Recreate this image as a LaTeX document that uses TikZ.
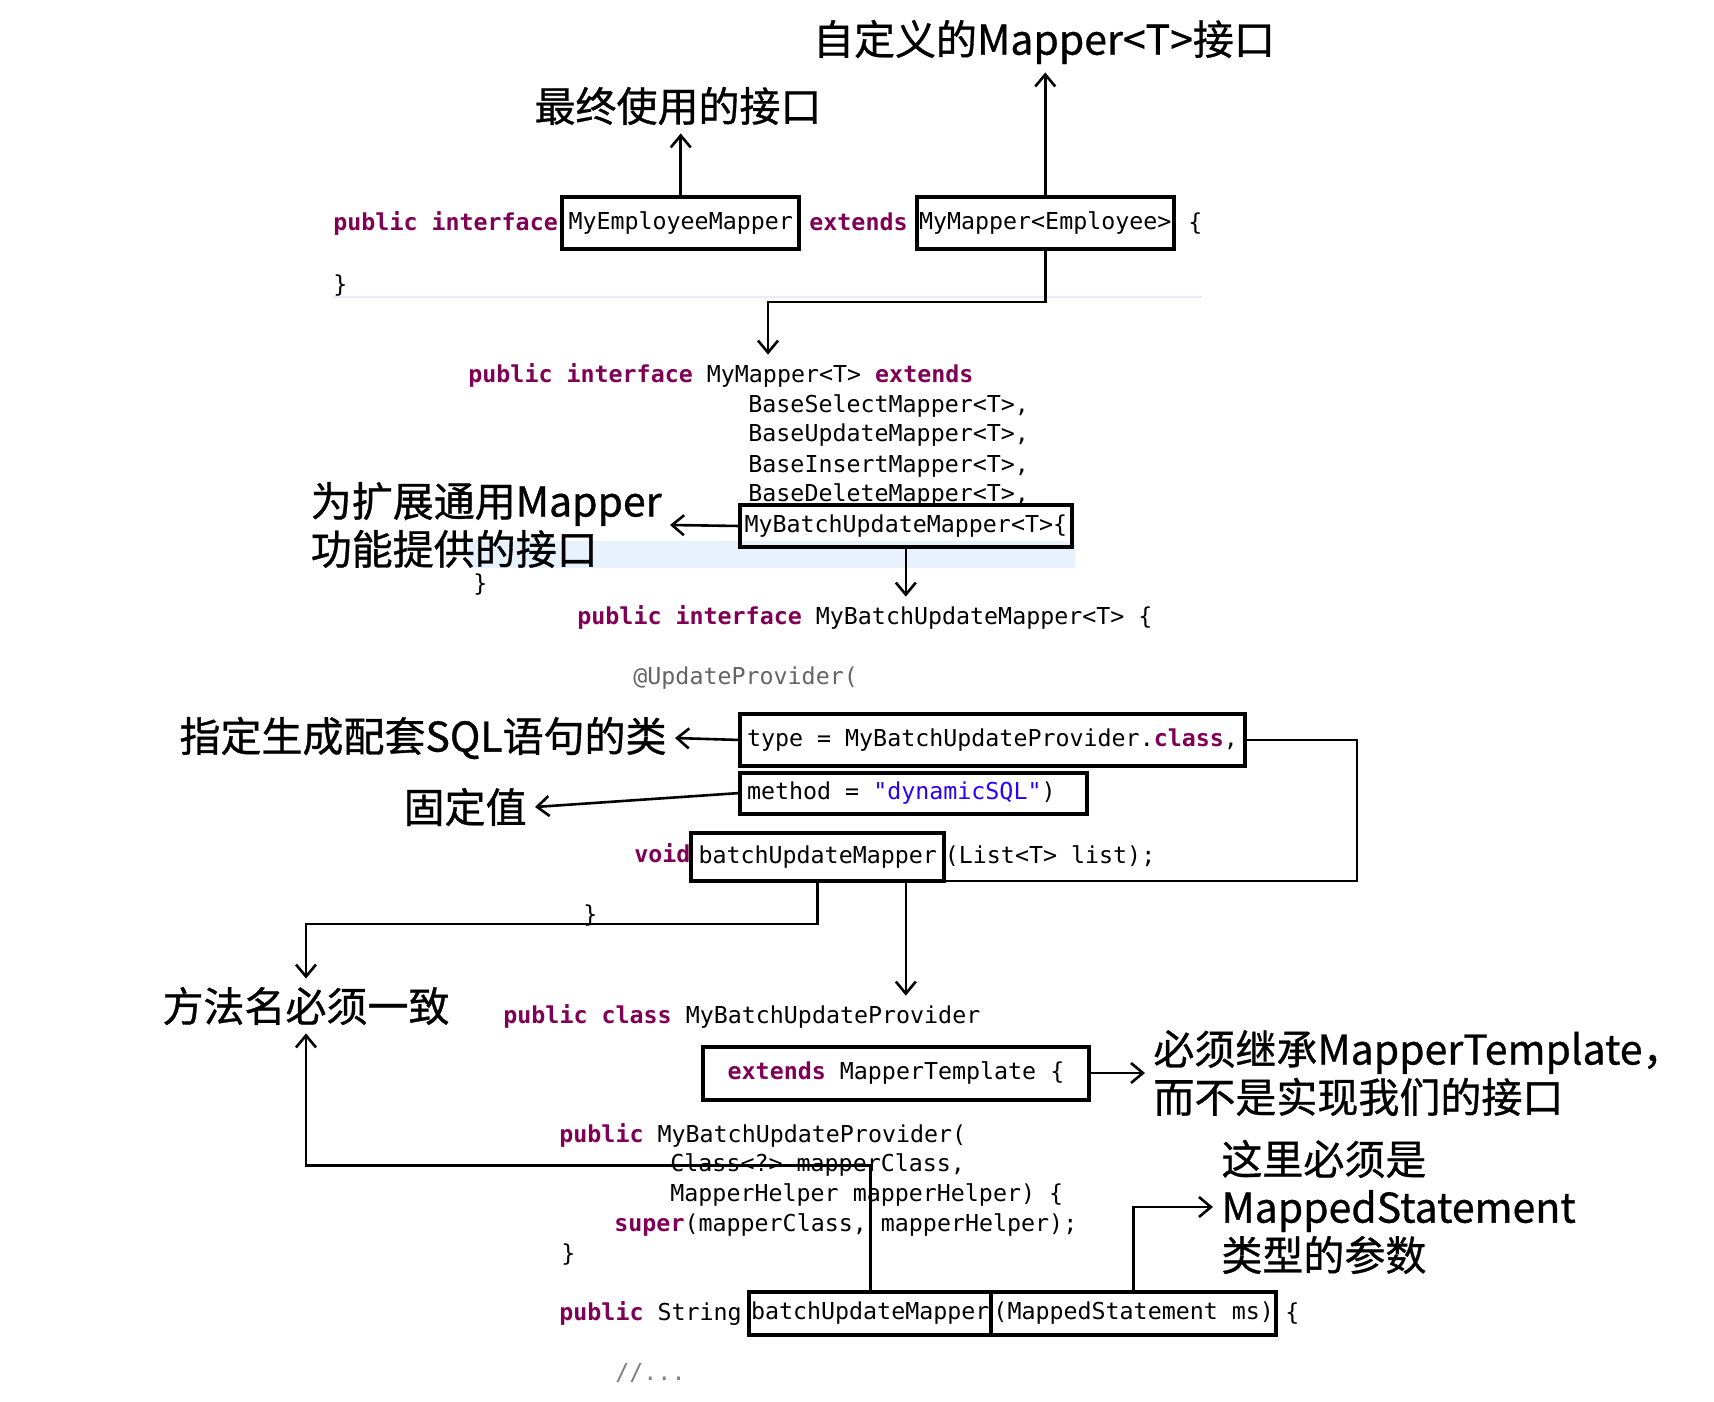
\documentclass[tikz,border=0pt]{standalone}
\usepackage{fontspec}
\usepackage{xcolor}
\usetikzlibrary{arrows.meta,positioning,calc}

\newfontfamily\codefont{DejaVu Sans Mono}
\newfontfamily\cjkfont{Noto Sans CJK SC}[FakeBold=0.8]

\definecolor{kwcol}{HTML}{7F0055}
\definecolor{strcol}{HTML}{2A00FF}
\definecolor{anncol}{HTML}{646464}
\definecolor{curline}{HTML}{E8F2FE}

\newcommand{\kw}[1]{\textcolor{kwcol}{\bfseries #1}}
\newcommand{\strlit}[1]{\textcolor{strcol}{#1}}

\tikzset{
  code/.style={font=\codefont\fontsize{11.65}{14}\selectfont, anchor=west, inner sep=0pt, text height=8.5pt, text depth=2.5pt},
  hl/.style={code, draw, line width=2pt, outer sep=0pt, inner xsep=1pt, minimum height=26pt},
  lbl/.style={font=\cjkfont\fontsize{20.5}{24}\selectfont, align=left, inner sep=4pt},
  arr/.style={line width=1.3pt, -{Straight Barb[length=6pt,width=10pt]}},
}

\begin{document}
\begin{tikzpicture}[x=0.5pt, y=-0.5pt]
    \useasboundingbox (0,0) rectangle (1714,1402);

    % MyEmployeeMapper
    \node[code] (l1a) at (333,224) {\kw{public interface}};
    \node[hl, inner xsep=3.25pt] (emp) at (562,223) {MyEmployeeMapper};
    \node[code] (l1b) at (809,224) {\kw{extends}};
    \node[hl] (mym) at (917,223) {MyMapper<Employee>};
    \node[code] (l1c) at (1188,224) {\{};
    \node[code] (l1d) at (333,286) {\}};
    \draw[blue!8, line width=1pt] (333,297) -- (1202,297);

    \node[lbl] (use) at (678,106) {最终使用的接口};
    \node[lbl] (def) at (1044,42) {自定义的Mapper<T>接口};
    \draw[arr] (emp.north) -- (emp.north |- use.south);
    \draw[arr] (mym.north) -- (mym.north |- def.south);

    % MyMapper<T>
    \coordinate (j1) at (768,302);
    \fill[curline] (468,541) rectangle (1075,568);
    \node[code] (l2a) at (468,376) {\kw{public interface} MyMapper<T> \kw{extends}};
    \draw[arr] (mym.south) |- (j1) -- ([yshift=5pt]j1 |- l2a.north);
    \foreach \op/\y in {Select/406, Update/435, Insert/466, Delete/495} {
        \node[code] (base\op) at (748,\y) {Base\op Mapper<T>,};
    }
    \node[hl, minimum height=21pt, inner xsep=2.25pt] (mbum) at (740,526) {MyBatchUpdateMapper<T>\{};
    \node[code] (l2c) at (473,585) {\}};
    \node[lbl, anchor=east] (ext1) at (670,525) {为扩展通用Mapper\\功能提供的接口};
    \draw[arr] (mbum.west) -- (ext1.east);

    % MyBatchUpdateMapper<T>
    \node[code] (l3a) at (577,618) {\kw{public interface} MyBatchUpdateMapper<T> \{};
    \draw[arr] (mbum.south) -- ([yshift=5pt]mbum.south |- l3a.north);
    \node[code, text=anncol] (l3b) at (633,678) {@UpdateProvider(};
    \node[hl, inner xsep=3.5pt] (typ) at (740,740) {type = MyBatchUpdateProvider.\kw{class},};
    \node[hl, minimum height=20.5pt, inner xsep=3.5pt] (meth) at (740,793) {\makebox[166.5pt][l]{method = \strlit{"dynamicSQL"})}};
    \node[code] (l3c) at (634,856) {\kw{void}};
    \node[hl, minimum height=24pt, inner xsep=3.75pt] (bum) at (691,857) {batchUpdateMapper};
    \node[code] (l3d) at (bum.east) {(List<T> list);};
    \node[code] (l3e) at (583,916) {\}};

    \node[lbl, anchor=east] (sql) at (675,738) {指定生成配套SQL语句的类};
    \draw[arr] (typ.west) -- (sql.east);
    \node[lbl, anchor=east] (fix) at (535,807) {固定值};
    \draw[arr] (meth.west) -- (fix.east);

    % MyBatchUpdateProvider
    \node[code] (cls) at (503,1017) {\kw{public class} MyBatchUpdateProvider};
    \coordinate (r1) at (1357,881);
    \draw[arr] (typ.east) -| (r1) -- (r1 -| mbum.south) -- ([yshift=5pt]mbum.south |- cls.north);
    \node[hl, anchor=center, minimum width=193pt, minimum height=26.5pt] (ext) at (896,1073) {\kw{extends} MapperTemplate \{};
    \node[lbl, anchor=west] (tpl) at (1145,1073) {必须继承MapperTemplate，\\而不是实现我们的接口};
    \draw[arr] (ext.east) -- (tpl.west);

    \node[code] (l4a) at (559,1136) {\kw{public} MyBatchUpdateProvider(};
    \node[code] (l4b) at (670,1165) {Class<?> mapperClass,};
    \node[code] (l4c) at (670,1195) {MapperHelper mapperHelper) \{};
    \node[code] (l4d) at (614,1225) {\kw{super}(mapperClass, mapperHelper);};
    \node[code] (l4e) at (561,1255) {\}};
    \node[code] (l4f) at (559,1314) {\kw{public} String};
    \node[hl, minimum height=21.5pt] (bum2) at (749,1313) {batchUpdateMapper};
    \node[hl, minimum height=21.5pt] (ms) at (bum2.east) {(MappedStatement ms)};
    \node[code] (l4g) at (1285,1314) {\{};
    \node[code, text=gray] (l4h) at (615,1374) {//...};

    \node[lbl] (same) at (306,1006) {方法名必须一致};
    \node[lbl, anchor=west] (mst) at (1213,1207) {这里必须是\\MappedStatement\\类型的参数};
    \draw[arr] (bum.south) -- ++(0,43) -| (same.north);
    \draw[arr] (bum2.north) -- ++(0,-126) -| (same.south);
    \draw[arr] (ms.north) |- (mst.west);

\end{tikzpicture}
\end{document}
